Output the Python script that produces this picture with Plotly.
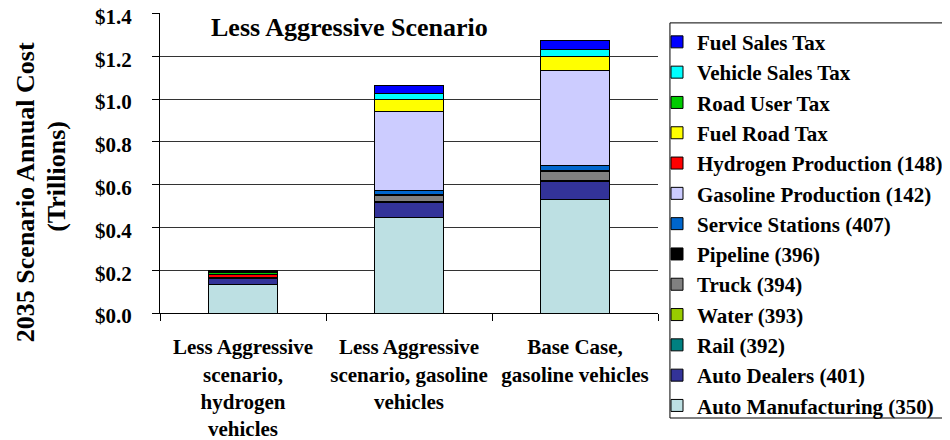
import plotly.graph_objects as go

# scenarios (x categories)
scenarios = [
    "Less Aggressive<br>scenario,<br>hydrogen<br>vehicles",
    "Less Aggressive<br>scenario, gasoline<br>vehicles",
    "Base Case,<br>gasoline vehicles",
]

# cost components, stacked from the bottom up (trillions of $)
auto_manufacturing = [0.135, 0.446, 0.532]
auto_dealers = [0.024, 0.070, 0.081]
rail = [0.001, 0.003, 0.004]
water = [0.001, 0.002, 0.003]
truck = [0.001, 0.030, 0.039]
pipeline = [0.002, 0.004, 0.007]
service_stations = [0.003, 0.018, 0.023]
gasoline_production = [0.0, 0.370, 0.443]
hydrogen_production = [0.012, 0.0, 0.0]
fuel_road_tax = [0.0, 0.054, 0.066]
road_user_tax = [0.008, 0.0, 0.0]
vehicle_sales_tax = [0.009, 0.030, 0.034]
fuel_sales_tax = [0.002, 0.035, 0.040]

# y axis ticks
y_ticks = [0.0, 0.2, 0.4, 0.6, 0.8, 1.0, 1.2, 1.4]
y_tick_labels = ["$0.0", "$0.2", "$0.4", "$0.6", "$0.8", "$1.0", "$1.2", "$1.4"]

series = [
    ("Auto Manufacturing (350)", auto_manufacturing, "#BDE0E3"),
    ("Auto Dealers (401)", auto_dealers, "#333399"),
    ("Rail (392)", rail, "#008080"),
    ("Water (393)", water, "#99CC00"),
    ("Truck (394)", truck, "#808080"),
    ("Pipeline (396)", pipeline, "#000000"),
    ("Service Stations (407)", service_stations, "#0066CC"),
    ("Gasoline Production (142)", gasoline_production, "#CCCCFF"),
    ("Hydrogen Production (148)", hydrogen_production, "#FF0000"),
    ("Fuel Road Tax", fuel_road_tax, "#FFFF00"),
    ("Road User Tax", road_user_tax, "#00CC00"),
    ("Vehicle Sales Tax", vehicle_sales_tax, "#00FFFF"),
    ("Fuel Sales Tax", fuel_sales_tax, "#0000FF"),
]

FONT = "Liberation Serif"

fig = go.Figure()
for i, (name, values, color) in enumerate(series):
    fig.add_trace(go.Bar(
        x=scenarios, y=values, name=name, legendgroup=name,
        legendrank=100 - i,  # legend lists the top of the stack first
        marker=dict(color=color, line=dict(color="black", width=1)),
    ))

# the page body adds an 8px offset, so margins are shifted by that
fig.update_layout(
    barmode="stack",
    bargap=0.59,
    width=950, height=440,
    margin=dict(l=152, r=300, t=5, b=135),
    plot_bgcolor="white", paper_bgcolor="white",
    font=dict(family=FONT, color="black", weight="bold"),
    showlegend=True,
    legend=dict(
        x=0.998, xanchor="left", y=0.971, yanchor="top",
        traceorder="grouped", tracegroupgap=0, maxheight=430,
        bgcolor="rgba(0,0,0,0)", borderwidth=0,
        font=dict(family=FONT, size=21, color="black", weight="bold"),
    ),
    shapes=[dict(type="rect", xref="paper", yref="paper",
                 x0=1.024, x1=1.582, y0=-0.35, y1=0.967,
                 line=dict(color="black", width=1), fillcolor="rgba(0,0,0,0)")],
    annotations=[
        dict(text="Less Aggressive Scenario", xref="paper", yref="paper",
             x=0.38, y=0.953, xanchor="center", yanchor="middle", showarrow=False,
             font=dict(family=FONT, size=26, color="black", weight="bold")),
        dict(text="2035 Scenario Annual Cost", xref="paper", yref="paper",
             x=-0.271, y=0.403, xanchor="center", yanchor="middle",
             textangle=-90, showarrow=False,
             font=dict(family=FONT, size=26, color="black", weight="bold")),
        dict(text="(Trillions)", xref="paper", yref="paper",
             x=-0.207, y=0.457, xanchor="center", yanchor="middle",
             textangle=-90, showarrow=False,
             font=dict(family=FONT, size=26, color="black", weight="bold")),
    ],
)

fig.update_yaxes(
    range=[0, 1.402], tickvals=y_ticks, ticktext=y_tick_labels,
    showgrid=True, gridcolor="#333333", gridwidth=1,
    showline=True, linecolor="black", linewidth=1,
    ticks="outside", ticklen=7, tickcolor="black", ticklabelstandoff=16,
    ticklabeloverflow="allow", ticklabelshift=3,
    tickfont=dict(family=FONT, size=21, color="black", weight="bold"),
    zeroline=False, automargin=False,
)
fig.update_xaxes(
    showline=True, linecolor="black", linewidth=1,
    ticks="outside", ticklen=7, tickcolor="black", tickson="boundaries",
    ticklabelstandoff=15, tickangle=0,
    tickfont=dict(family=FONT, size=21, color="black", weight="bold"),
    automargin=False,
)

fig.write_html("out.html")
